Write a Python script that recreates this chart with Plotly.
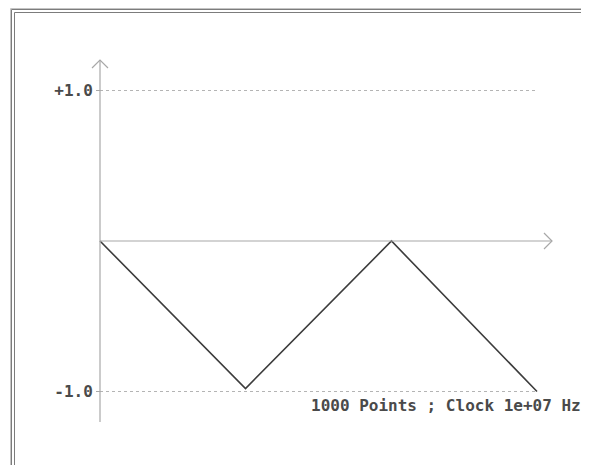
import plotly.graph_objects as go

# Triangle-wave vertices (sample index, amplitude)
sample_idx = [0, 333, 667, 1000]
amplitude = [0.0, -0.98, 0.0, -1.0]
tick_vals = [-1.0, 1.0]
tick_text = ["-1.0", "+1.0"]
caption = "1000 Points ; Clock 1e+07 Hz"

OFF = 8  # page body margin
W, H = 589, 465


def px(p):  # page pixel -> figure pixel
    return p - OFF


X0 = px(100)   # x = 0
Y0 = px(241)   # y = 0
sx = 437 / 1000.0
sy = 150.5
x_min = -X0 / sx
x_max = (W - X0) / sx
y_max = Y0 / sy
y_min = -(H - Y0) / sy

axis_col = "#a8a8a8"
font_fam = "DejaVu Sans Mono, monospace"
txt_col = "#4a4a4a"

fig = go.Figure()
fig.add_trace(go.Scatter(x=sample_idx, y=amplitude, mode="lines",
                         line=dict(color="#3c3c3c", width=1.6),
                         hoverinfo="skip", showlegend=False))

shapes = []
for v in tick_vals:
    shapes.append(dict(type="line", xref="x", yref="y", x0=0, x1=sample_idx[-1], y0=v, y1=v,
                       line=dict(color="#b4b4b4", width=1, dash="dot"), layer="below"))
y_top = (241 - 60) / sy
y_bot = -(422 - 241) / sy
shapes.append(dict(type="line", xref="x", yref="y", x0=0, x1=0, y0=y_bot, y1=y_top,
                   line=dict(color=axis_col, width=1.2)))
x_end = (552 - 100) / sx
shapes.append(dict(type="line", xref="x", yref="y", x0=0, x1=x_end, y0=0, y1=0,
                   line=dict(color=axis_col, width=1.2)))
ah = 8
shapes.append(dict(type="path", xref="x", yref="y",
                   path=f"M {-ah/sx},{y_top - ah/sy} L 0,{y_top} L {ah/sx},{y_top - ah/sy}",
                   line=dict(color=axis_col, width=1.2)))
shapes.append(dict(type="path", xref="x", yref="y",
                   path=f"M {x_end - ah/sx},{ah/sy} L {x_end},0 L {x_end - ah/sx},{-ah/sy}",
                   line=dict(color=axis_col, width=1.2)))
# double frame (top and left)
for top, left, col in [(8.5, 10.5, "#c4c4c4"), (9.5, 11.5, "#7c7c7c"), (12.5, 14.5, "#7c7c7c")]:
    ty = 1 - px(top) / H
    lx = px(left) / W
    shapes.append(dict(type="line", xref="paper", yref="paper", x0=lx, x1=1,
                       y0=ty, y1=ty, line=dict(color=col, width=1)))
    shapes.append(dict(type="line", xref="paper", yref="paper", x0=lx, x1=lx,
                       y0=0, y1=ty, line=dict(color=col, width=1)))

fig.update_layout(
    width=W, height=H,
    margin=dict(l=0, r=0, t=0, b=0),
    paper_bgcolor="white", plot_bgcolor="white",
    xaxis=dict(range=[x_min, x_max], visible=False, fixedrange=True),
    yaxis=dict(range=[y_min, y_max], anchor="free", position=X0 / W,
               tickvals=tick_vals, ticktext=tick_text, ticks="outside", ticklen=4,
               tickcolor=axis_col, showgrid=False, zeroline=False, showline=False,
               tickfont=dict(family=font_fam, size=16, color=txt_col, weight="bold"),
               fixedrange=True),
    shapes=shapes,
    annotations=[dict(text=caption, xref="paper", yref="y", x=px(583) / W,
                      y=-(405 - 241) / sy,
                      xanchor="right", yanchor="middle", showarrow=False,
                      font=dict(family=font_fam, size=16, color=txt_col, weight="bold"))],
)
fig.write_html("out.html")
